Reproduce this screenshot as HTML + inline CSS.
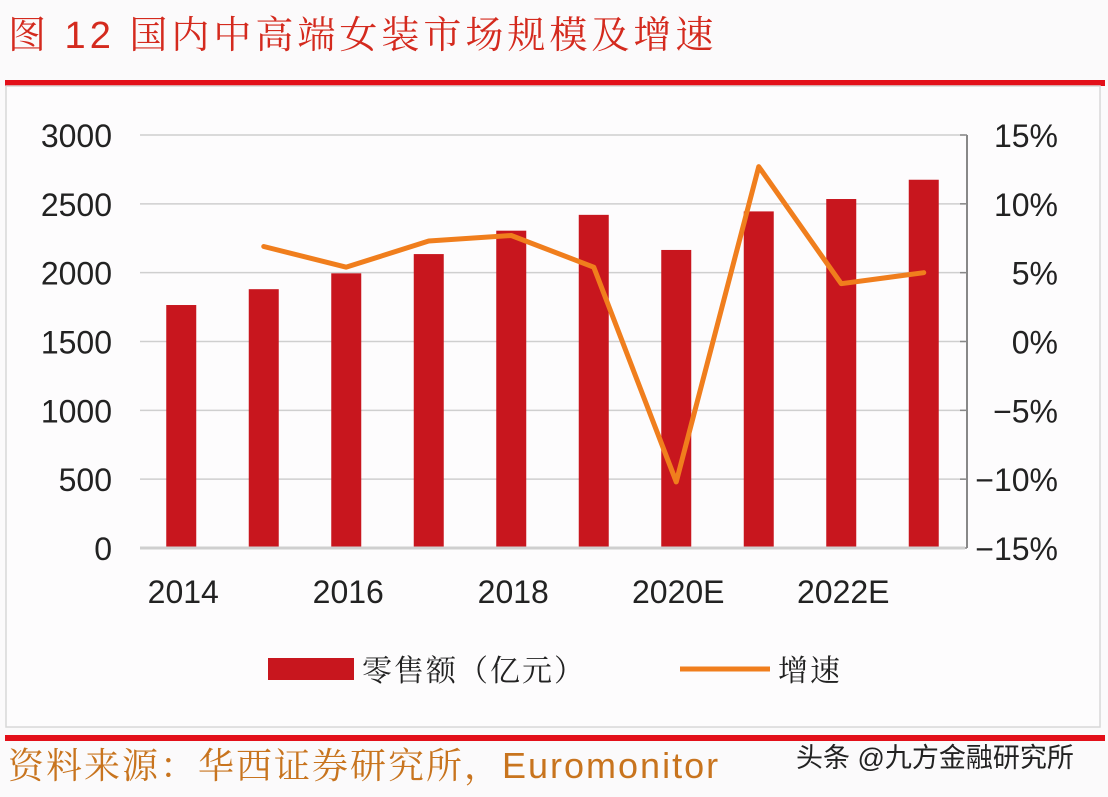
<!DOCTYPE html>
<html><head><meta charset="utf-8"><style>
body{margin:0;width:1108px;height:792px;background:#fbfafb;overflow:hidden;font-family:"Liberation Sans","Noto Sans CJK SC",sans-serif;}
</style></head><body>
<svg width="1108" height="792" xmlns="http://www.w3.org/2000/svg">
<text x="8" y="48" font-size="38" letter-spacing="4" fill="#d42a1e" font-family="'Liberation Sans','Noto Serif CJK SC',serif">图 12 国内中高端女装市场规模及增速</text>
<rect x="5" y="80" width="1100" height="6" fill="#e3101a"/>
<rect x="6" y="86" width="1094" height="641" fill="#fdfcfd" stroke="#d8d8d8" stroke-width="1.5"/>
<g id="grid"></g><g id="bars"></g><g id="line"></g><g id="axes"></g>
<g>
<rect x="268" y="658" width="86" height="22" fill="#c8161e"/>
<text x="362" y="681" font-size="30" letter-spacing="2" fill="#222" font-family="'Noto Serif CJK SC',serif">零售额（亿元）</text>
<line x1="680" y1="669" x2="770" y2="669" stroke="#f07e1d" stroke-width="5"/>
<text x="778" y="681" font-size="30" letter-spacing="2" fill="#222" font-family="'Noto Serif CJK SC',serif">增速</text>
</g>
<rect x="5" y="735" width="1100" height="6" fill="#e3101a"/>
<text x="8" y="778" font-size="36" letter-spacing="2" fill="#c8741e" font-family="'Liberation Sans','Noto Serif CJK SC',serif">资料来源：华西证券研究所，Euromonitor</text>
<text x="796" y="767" font-size="27" fill="#222">头条 @九方金融研究所</text>
</svg>
<script>
const categories=["2014","2015","2016","2017","2018","2019","2020E","2021E","2022E","2023E"];
const sales=[1765,1880,1995,2135,2305,2420,2165,2445,2535,2675];
const growth=[null,6.9,5.4,7.3,7.7,5.4,-10.2,12.7,4.2,5.0];
const leftTicks=[0,500,1000,1500,2000,2500,3000];
const rightTicks=[-15,-10,-5,0,5,10,15];
const xLabels=["2014","2016","2018","2020E","2022E"];
const NS="http://www.w3.org/2000/svg";
const x0=140,x1=965,yTop=135,yBot=548;
const slot=(x1-x0)/categories.length;
const xc=i=>x0+slot*(i+0.5);
const yL=v=>yBot-(v/3000)*(yBot-yTop);
const yR=v=>yBot-((v+15)/30)*(yBot-yTop);
function mk(t,a,p){const e=document.createElementNS(NS,t);for(const k in a)e.setAttribute(k,a[k]);document.getElementById(p).appendChild(e);return e;}
leftTicks.forEach(v=>{
 if(v>0){const g=mk('line',{x1:x0,x2:x1,y1:yL(v),y2:yL(v),stroke:'#cfcfcf','stroke-width':1.5},'grid');
 
 }
 const t=mk('text',{x:112,y:yL(v)+12,'font-size':32,'text-anchor':'end',fill:'#222'},'axes');t.textContent=v;
 
 
});
rightTicks.forEach(v=>{
 const t=mk('text',{x:1058,y:yR(v)+12,'font-size':32,'text-anchor':'end',fill:'#222'},'axes');t.textContent=(v<0?'\u2212':'')+Math.abs(v)+'%';
 
 
 const tk=mk('line',{x1:960,x2:967,y1:yR(v),y2:yR(v),stroke:'#888','stroke-width':1.5},'axes');
 
 
});
const ra=mk('line',{x1:967,x2:967,y1:yTop,y2:yBot,stroke:'#888','stroke-width':2},'axes');


const xa=mk('line',{x1:x0,x2:x1,y1:yBot,y2:yBot,stroke:'#cfcfcf','stroke-width':3},'axes');


sales.forEach((v,i)=>{
 const b=mk('rect',{x:xc(i)-15,y:yL(v),width:30,height:yBot-yL(v),fill:'#c8161e'},'bars');
 
 
});
categories.forEach((c,i)=>{
 if(xLabels.includes(c)){const t=mk('text',{x:xc(i)+2,y:603,'font-size':32,'text-anchor':'middle',fill:'#222'},'axes');t.textContent=c;
 
 }
});
const pts=growth.map((v,i)=>v===null?null:[xc(i),yR(v)]).filter(p=>p);
const pl=mk('polyline',{points:pts.map(p=>p.join(',')).join(' '),fill:'none',stroke:'#f07e1d','stroke-width':5,'stroke-linejoin':'round','stroke-linecap':'round'},'line');


</script>
</body></html>
